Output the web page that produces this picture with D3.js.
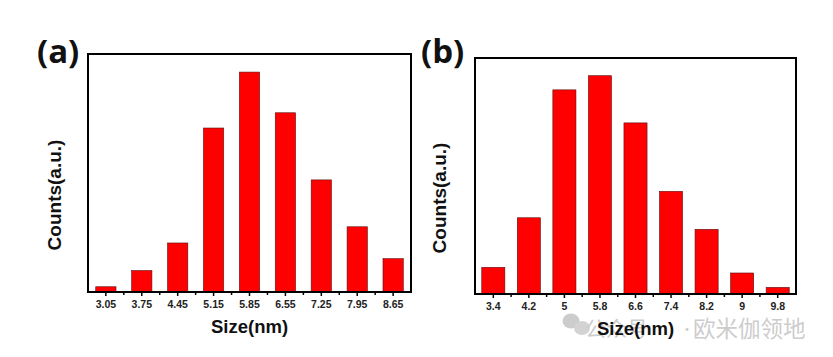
<!DOCTYPE html>
<html><head><meta charset="utf-8">
<script src="https://cdn.jsdelivr.net/npm/d3@7/dist/d3.min.js"></script>
<style>body{margin:0;background:#fff}svg{display:block}</style>
</head><body>
<svg id="c" width="833" height="357"></svg>
<script>
const catsA = ["3.05","3.75","4.45","5.15","5.85","6.55","7.25","7.95","8.65"];
const valsA = [2.2, 9.0, 20.6, 68.9, 92.4, 75.3, 47.1, 27.4, 14.0];
const catsB = ["3.4","4.2","5","5.8","6.6","7.4","8.2","9","9.8"];
const valsB = [11.3, 32.3, 86.5, 92.5, 72.5, 43.5, 27.4, 8.9, 2.8];
const panelLabels = ["(a)","(b)"];
const xTitle = "Size(nm)";
const yTitle = "Counts(a.u.)";
const watermark = ["公众号", "·", "欧米伽领地"];

const svg = d3.select("#c");
const font = "Arial, 'Liberation Sans', sans-serif";

// watermark (drawn first, behind)
const wm = svg.append("g").attr("opacity",0.42);
wm.append("ellipse").attr("cx",571).attr("cy",321).attr("rx",8.5).attr("ry",7.5).attr("fill","#888");
wm.append("ellipse").attr("cx",582).attr("cy",328).attr("rx",8).attr("ry",7).attr("fill","#999");
const wmFont = "'Noto Sans CJK SC', sans-serif";
wm.append("text").attr("x",585).attr("y",336).attr("font-family",wmFont).attr("font-size",21).attr("fill","#888").text(watermark[0]);
wm.append("text").attr("x",680).attr("y",334).attr("font-family",wmFont).attr("font-size",14).attr("fill","#888").text(watermark[1]);
wm.append("text").attr("x",693).attr("y",337).attr("font-family",wmFont).attr("font-size",22.5).attr("fill","#888").text(watermark[2]);

function panel(cfg){
  const {cats, vals, L, R, T, B, pi, po, label, lx, yx} = cfg;
  const g = svg.append("g");
  const x = d3.scaleBand().domain(cats).range([L, R]).paddingInner(pi).paddingOuter(po);
  const y = d3.scaleLinear().domain([0, 100]).range([B, T]);
  g.selectAll("rect.bar").data(vals).enter().append("rect")
    .attr("class","bar")
    .attr("x",(d,i)=>x(cats[i]))
    .attr("width",x.bandwidth())
    .attr("y",d=>y(d))
    .attr("height",d=>B-y(d))
    .attr("fill","#ff0000")
    .attr("stroke","#5a1010").attr("stroke-width",0.6);
  const step = x.step();
  const bounds = cats.slice(0,-1).map(c => x(c) + x.bandwidth()/2 + step/2);
  g.selectAll("line.minor").data(bounds).enter().append("line")
    .attr("x1",d=>d).attr("x2",d=>d).attr("y1",B).attr("y2",B+3)
    .attr("stroke","#000").attr("stroke-width",1.5);
  const ax = g.append("g").attr("transform",`translate(0,${B})`)
    .call(d3.axisBottom(x).tickSize(4).tickSizeOuter(0).tickPadding(5));
  ax.select(".domain").remove();
  ax.selectAll(".tick line").attr("stroke","#000").attr("stroke-width",1.5);
  ax.selectAll(".tick text").attr("font-family",font).attr("font-size",10.5)
    .attr("font-weight","bold").attr("fill","#222");
  g.append("rect").attr("x",L).attr("y",T).attr("width",R-L).attr("height",B-T)
    .attr("fill","none").attr("stroke","#000").attr("stroke-width",2);
  g.append("text").attr("x",(L+R)/2).attr("y",B+41).attr("text-anchor","middle")
    .attr("font-family",font).attr("font-weight","bold").attr("font-size",18.5).attr("fill","#111")
    .text(xTitle);
  g.append("text").attr("transform",`translate(${yx},${(T+B)/2+22}) rotate(-90)`)
    .attr("text-anchor","middle")
    .attr("font-family",font).attr("font-weight","bold").attr("font-size",19).attr("fill","#111")
    .text(yTitle);
  g.append("text").attr("x",lx).attr("y",63)
    .attr("font-family","'Open Sans', Arial, sans-serif").attr("font-weight","bold").attr("font-size",33).attr("fill","#111")
    .text(label);
}

panel({cats:catsA, vals:valsA, L:88, R:411, T:54, B:292, pi:0.435, po:0.215, label:panelLabels[0], lx:37, yx:61});
panel({cats:catsB, vals:valsB, L:475, R:796, T:58, B:294, pi:0.35, po:0.19, label:panelLabels[1], lx:421, yx:446});
</script>
</body></html>
